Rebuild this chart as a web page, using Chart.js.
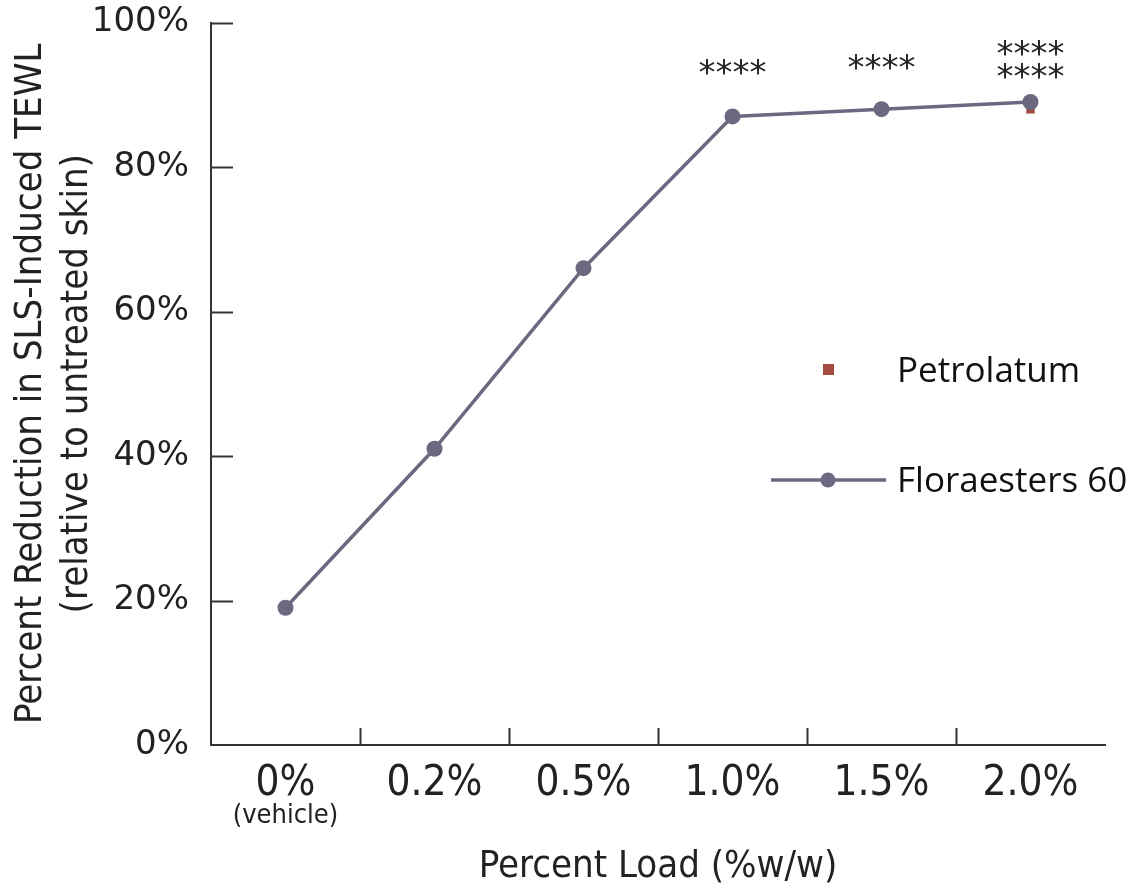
<!DOCTYPE html>
<html>
<head>
<meta charset="utf-8">
<script src="https://cdn.jsdelivr.net/npm/chart.js@4.4.1/dist/chart.umd.min.js"></script>
<style>
  html, body { margin: 0; padding: 0; background: #fff; }
  #wrap { width: 1145px; height: 890px; }
</style>
</head>
<body>
<div id="wrap"><canvas id="chart" width="1145" height="890"></canvas></div>
<script>
// categories and values
const loads = ['0%', '0.2%', '0.5%', '1.0%', '1.5%', '2.0%']
const floraesters = [19, 41, 66, 87, 88, 89]
const petrolatum = [null, null, null, null, null, 88]
const yTicks = [0, 20, 40, 60, 80, 100]
// significance marks, one row per entry, placed at a value on the y scale
const stars = [[], [], [], ['****'], ['****'], ['****', '****']]
const starLevels = [[], [], [], [93.3], [94], [95.9, 92.7]]

const lineColor = '#6b6980'
const petroColor = '#a24b3e'
const axisColor = '#333'
const narrow = '"Liberation Sans Narrow", "DejaVu Sans Condensed", sans-serif'

const extras = {
    id: 'extras',
    afterDraw(chart) {
        const ctx = chart.ctx
        const x = chart.scales.x
        const y = chart.scales.y
        const area = chart.chartArea
        ctx.save()
        ctx.strokeStyle = axisColor
        ctx.lineWidth = 2
        // inward ticks on y
        yTicks.forEach(v => {
            if (v === 0) return
            const py = Math.round(y.getPixelForValue(v)) + 0.5
            ctx.beginPath()
            ctx.moveTo(area.left, py)
            ctx.lineTo(area.left + 22, py)
            ctx.stroke()
        })
        // inward ticks between categories
        for (let i = 1; i < loads.length; i++) {
            const px = Math.round((x.getPixelForValue(i - 1) + x.getPixelForValue(i)) / 2) + 0.5
            ctx.beginPath()
            ctx.moveTo(px, area.bottom)
            ctx.lineTo(px, area.bottom - 17)
            ctx.stroke()
        }
        // (vehicle) note under first label
        ctx.fillStyle = '#222'
        ctx.font = '27px ' + narrow
        ctx.textAlign = 'center'
        ctx.textBaseline = 'middle'
        ctx.fillText('(vehicle)', x.getPixelForValue(0), 816)
        // stars
        ctx.font = '34px "DejaVu Sans", sans-serif'
        stars.forEach((rows, i) => {
            rows.forEach((s, j) => {
                ctx.fillText(s, x.getPixelForValue(i), y.getPixelForValue(starLevels[i][j]) + 4)
            })
        })
        // legend
        ctx.textAlign = 'left'
        ctx.font = '35px "Open Sans", sans-serif'
        ctx.fillStyle = petroColor
        ctx.fillRect(823, 364, 11, 11)
        ctx.fillStyle = '#111'
        ctx.fillText('Petrolatum', 897, 372)
        ctx.strokeStyle = lineColor
        ctx.lineWidth = 3.5
        ctx.beginPath()
        ctx.moveTo(771, 480)
        ctx.lineTo(886, 480)
        ctx.stroke()
        ctx.fillStyle = lineColor
        ctx.beginPath()
        ctx.arc(828, 480, 7.5, 0, Math.PI * 2)
        ctx.fill()
        ctx.fillStyle = '#111'
        ctx.fillText('Floraesters 60', 897, 482)
        ctx.restore()
    }
}

new Chart(document.getElementById('chart'), {
    type: 'line',
    data: {
        labels: loads,
        datasets: [
            {
                label: 'Floraesters 60',
                data: floraesters,
                borderColor: lineColor,
                backgroundColor: lineColor,
                borderWidth: 3.5,
                pointRadius: 8,
                pointHoverRadius: 8,
                pointBorderWidth: 0,
                tension: 0
            },
            {
                label: 'Petrolatum',
                data: petrolatum,
                showLine: false,
                pointStyle: 'rect',
                pointRadius: 6,
                pointBorderWidth: 0,
                backgroundColor: petroColor,
                borderColor: petroColor
            }
        ]
    },
    options: {
        responsive: false,
        animation: false,
        layout: { padding: { top: 22, right: 40, left: 0, bottom: 0 } },
        plugins: { legend: { display: false }, tooltip: { enabled: false } },
        scales: {
            x: {
                offset: true,
                grid: { display: false, offset: true },
                border: { display: true, color: axisColor, width: 2 },
                ticks: {
                    color: '#222',
                    font: { family: narrow, size: 42 },
                    padding: 6
                },
                title: {
                    display: true,
                    text: 'Percent Load (%w/w)',
                    color: '#222',
                    font: { family: narrow, size: 38 },
                    padding: { top: 50, bottom: 0 }
                },
                afterFit(scale) { scale.height = 145 }
            },
            y: {
                min: 0,
                max: 100,
                afterBuildTicks(scale) { scale.ticks = yTicks.map(v => ({ value: v })) },
                grid: { display: false },
                border: { display: true, color: axisColor, width: 2 },
                ticks: {
                    color: '#222',
                    font: { family: '"DejaVu Sans", sans-serif', size: 34, lineHeight: 0.5 },
                    padding: 14,
                    callback: v => v + '%'
                },
                title: {
                    display: true,
                    text: ['Percent Reduction in SLS-Induced TEWL', '(relative to untreated skin)'],
                    color: '#222',
                    font: { family: narrow, size: 38, lineHeight: 1.22 },
                    padding: { top: 8, bottom: 0 }
                },
                afterFit(scale) { scale.width = 211 }
            }
        }
    },
    plugins: [extras]
})
</script>
</body>
</html>
